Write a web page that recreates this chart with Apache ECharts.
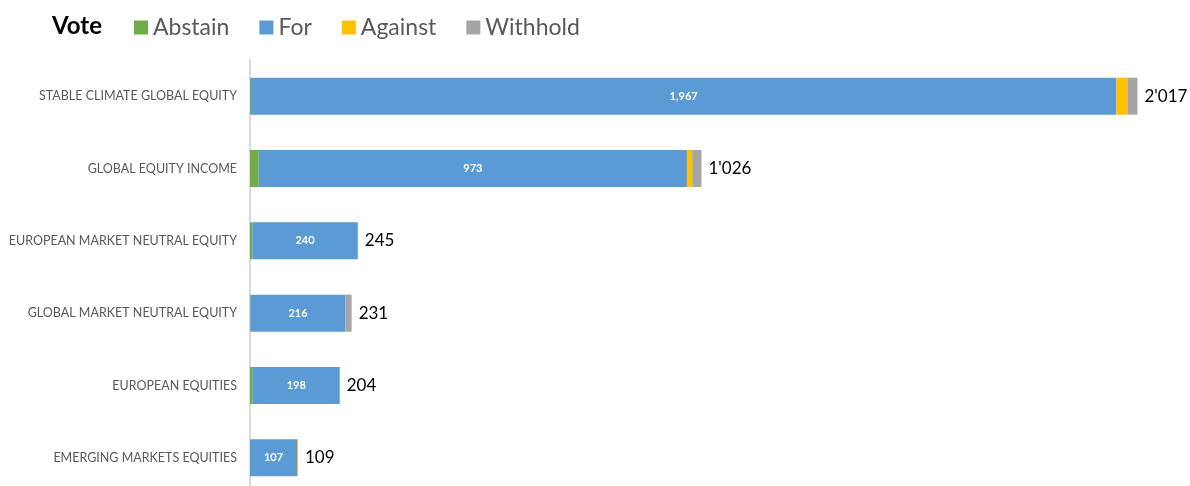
<!DOCTYPE html>
<html>
<head>
<meta charset="utf-8">
<script src="https://cdn.jsdelivr.net/npm/echarts@6/dist/echarts.min.js"></script>
<style>
  html, body { margin: 0; padding: 0; background: #fff; }
  #chart { width: 1190px; height: 486px; }
</style>
</head>
<body>
<div id="chart"></div>
<script>
// Funds, listed top to bottom
const funds = [
  'STABLE CLIMATE GLOBAL EQUITY',
  'GLOBAL EQUITY INCOME',
  'EUROPEAN MARKET NEUTRAL EQUITY',
  'GLOBAL MARKET NEUTRAL EQUITY',
  'EUROPEAN EQUITIES',
  'EMERGING MARKETS EQUITIES'
];
// Number of votes per fund, by vote type
const abstain  = [2, 20, 5, 1, 6, 0];
const forVotes = [1967, 973, 240, 216, 198, 107];
const against  = [25, 12, 0, 0, 0, 2];
const withhold = [23, 21, 0, 14, 0, 0];

const totals = funds.map((_, i) => abstain[i] + forVotes[i] + against[i] + withhold[i]);

const FONT = 'Lato, "Open Sans", sans-serif';
const fmtTotal = v => String(v).replace(/\B(?=(\d{3})+(?!\d))/g, "'");
const fmtFor = v => String(v).replace(/\B(?=(\d{3})+(?!\d))/g, ',');

const chart = echarts.init(document.getElementById('chart'));

function barSeries(name, data, color, extra) {
  return Object.assign({
    name: name,
    type: 'bar',
    stack: 'votes',
    data: data,
    barWidth: 37,
    itemStyle: { color: color },
    emphasis: { disabled: true },
    animation: false
  }, extra || {});
}

chart.setOption({
  animation: false,
  title: {
    text: 'Vote',
    left: 47,
    top: 9,
    textStyle: { fontFamily: FONT, fontSize: 24, fontWeight: 'bold', color: '#000' }
  },
  legend: {
    left: 129,
    top: 11,
    itemWidth: 14,
    itemHeight: 14,
    itemGap: 30,
    icon: 'rect',
    textStyle: { fontFamily: FONT, fontSize: 23, color: '#595959' },
    data: ['Abstain', 'For', 'Against', 'Withhold']
  },
  grid: {
    left: 250,
    top: 60,
    height: 434,
    right: 16,
    containLabel: false,
    outerBoundsMode: 'none'
  },
  xAxis: {
    type: 'value',
    min: 0,
    max: 2100,
    show: false
  },
  yAxis: {
    type: 'category',
    data: funds,
    inverse: true,
    axisTick: { show: false },
    axisLine: { show: true, lineStyle: { color: '#d9d9d9', width: 2 } },
    axisLabel: { fontFamily: FONT, fontSize: 12.5, color: '#595959', margin: 13 }
  },
  series: [
    barSeries('Abstain', abstain, '#70AD47'),
    barSeries('For', forVotes, '#5B9BD5', {
      label: {
        show: true,
        position: 'inside',
        fontFamily: FONT,
        fontSize: 11,
        fontWeight: 'bold',
        color: '#fff',
        formatter: p => fmtFor(p.value)
      }
    }),
    barSeries('Against', against, '#FFC000'),
    barSeries('Withhold', withhold, '#A5A5A5', {
      label: {
        show: true,
        position: 'right',
        distance: 7,
        fontFamily: FONT,
        fontSize: 17,
        color: '#000',
        formatter: p => fmtTotal(totals[p.dataIndex])
      }
    })
  ]
});
</script>
</body>
</html>
